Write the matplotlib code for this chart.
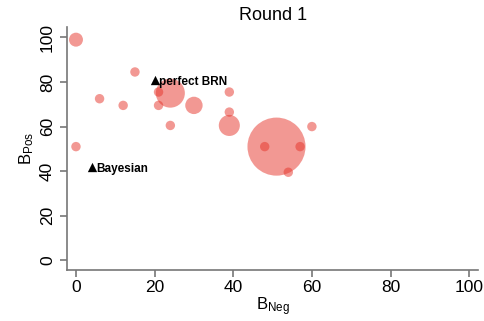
import numpy as np
import matplotlib.pyplot as plt

plt.rcParams['font.family'] = ['Liberation Sans', 'DejaVu Sans']
plt.rcParams['mathtext.default'] = 'regular'

# data
b_neg = [0, 0, 6, 12, 15, 21, 24, 21, 24, 30, 39, 39, 39, 60, 51, 48, 57, 54]
b_pos = [99, 51, 72.5, 69.5, 84.5, 75.5, 75, 69.5, 60.5, 69.5, 75.5, 66.5, 60.5, 60, 51, 51, 51, 39.5]
weight = [2.2, 1, 1, 1, 1, 1, 9.5, 1, 1, 3.4, 1, 1, 5, 1, 38, 1, 1, 1]

ref_labels = ['perfect BRN', 'Bayesian']
ref_neg = [20, 4]
ref_pos = [81, 42]

fig = plt.figure(figsize=(4.85, 3.21), dpi=100)
ax = fig.add_axes([0.138, 0.158, 0.848, 0.758])

ax.scatter(b_neg, b_pos, s=np.array(weight) * 46, color=(0.9, 0.2, 0.16),
           alpha=0.5, linewidths=0, zorder=2)
ax.scatter(ref_neg, ref_pos, marker='^', s=45, color='black', linewidths=0, zorder=3)
for lab, x, y in zip(ref_labels, ref_neg, ref_pos):
    ax.annotate(lab, (x, y), xytext=(3, -1.5), textcoords='offset points',
                ha='left', va='center', fontsize=8.5, fontweight='bold', zorder=4)

ax.set_xlim(-2.3, 102.3)
ax.set_ylim(-4.5, 104.7)
ax.set_xticks(np.arange(0, 101, 20))
ax.set_yticks(np.arange(0, 101, 20))
ax.tick_params(labelsize=12.5, color='#777777', length=5, width=1.2, labelcolor='black')
ax.tick_params(axis='x', pad=2)
for lab in ax.get_yticklabels():
    lab.set_rotation(90)
    lab.set_va('center')
for side in ['top', 'right']:
    ax.spines[side].set_visible(False)
for side in ['left', 'bottom']:
    ax.spines[side].set_color('#777777')
    ax.spines[side].set_linewidth(1.2)

ax.set_title('Round 1', fontsize=13, pad=5)
ax.set_xlabel('B$_{Neg}$', fontsize=12, labelpad=0)
ax.set_ylabel('B$_{Pos}$', fontsize=12, labelpad=3)

plt.savefig('out.png', dpi=100)
